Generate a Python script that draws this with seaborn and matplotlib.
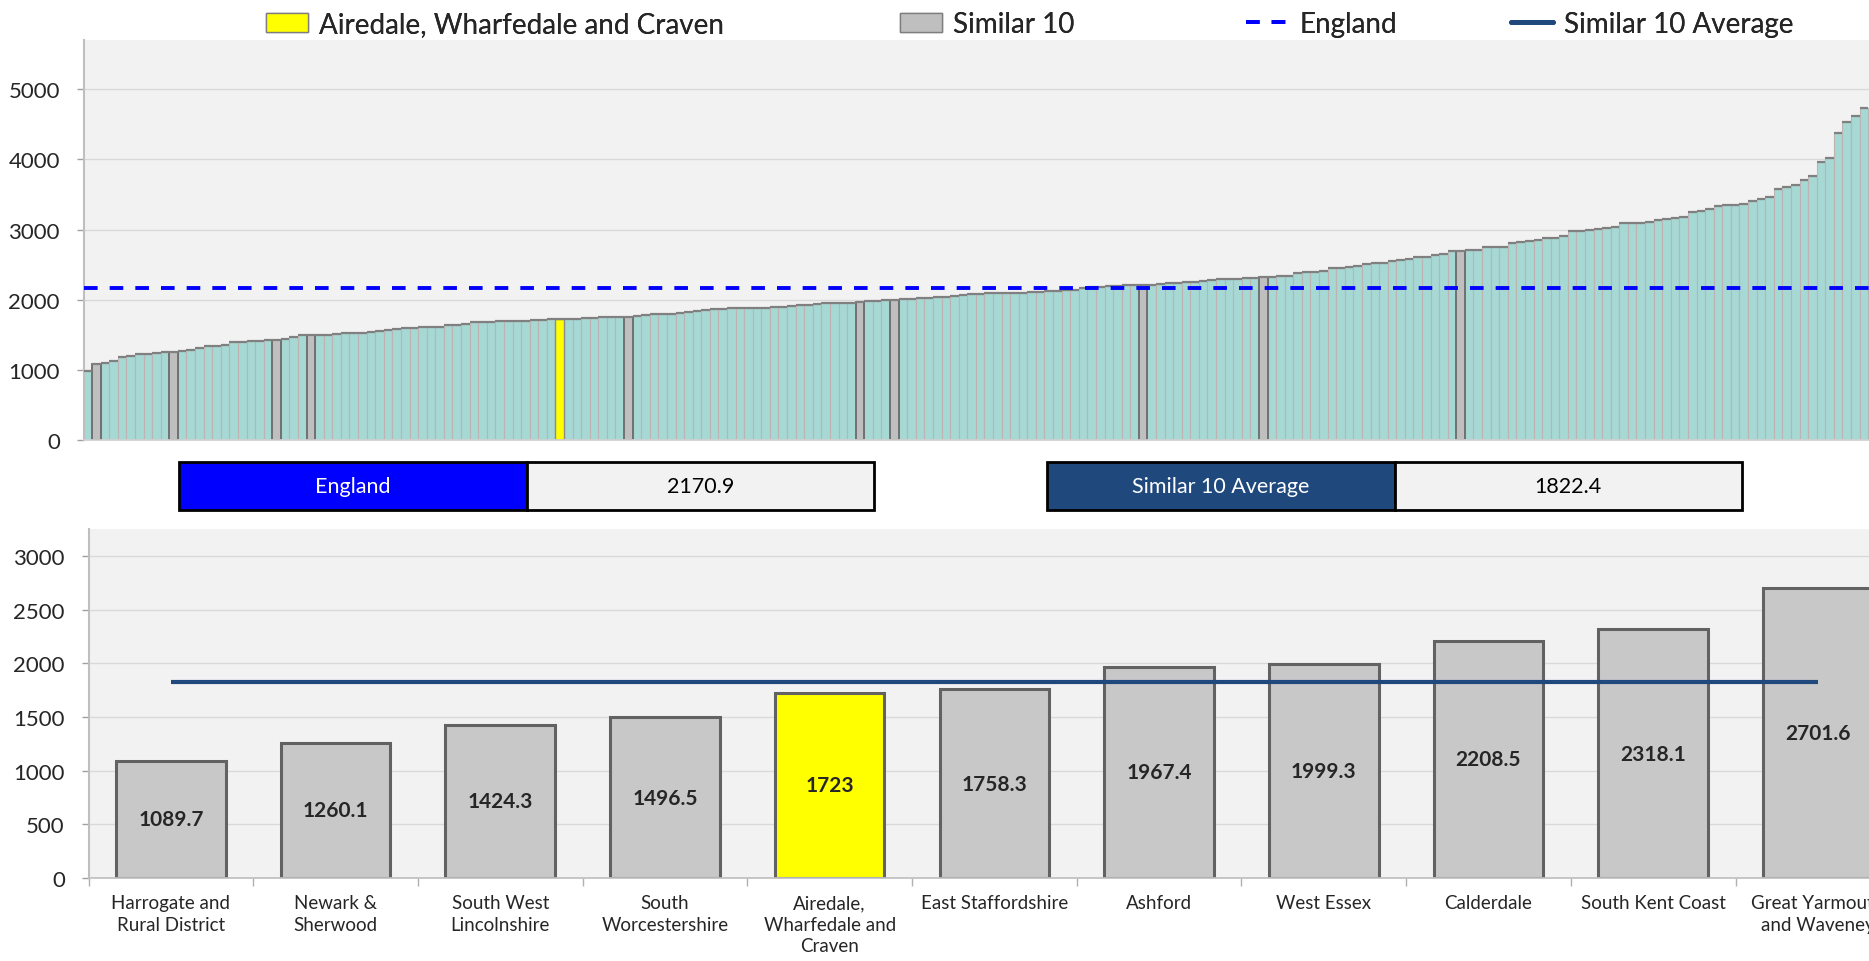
import numpy as np
import pandas as pd
import matplotlib
matplotlib.use("Agg")
import matplotlib.pyplot as plt
from matplotlib.patches import Patch, Rectangle
from matplotlib.lines import Line2D
import seaborn as sns

# ---- data ----
# all areas, sorted ascending (top panel)
all_values = [
    980, 1089.7, 1104, 1123, 1190, 1200, 1219, 1228, 1247, 1257,
    1260.1, 1264, 1290, 1309, 1338, 1343, 1357, 1395, 1404, 1414,
    1417, 1419, 1424.3, 1438, 1466, 1494, 1496.5, 1500, 1504, 1506,
    1519, 1521, 1523, 1538, 1557, 1566, 1580, 1598, 1603, 1605,
    1609, 1613, 1633, 1637, 1652, 1680, 1685, 1689, 1692, 1694,
    1696, 1699, 1704, 1710, 1718, 1723, 1725, 1730, 1740, 1745,
    1750, 1754, 1756, 1758.3, 1766, 1780, 1790, 1795, 1797, 1809,
    1823, 1842, 1856, 1861, 1871, 1880, 1883, 1884, 1885, 1887,
    1890, 1900, 1909, 1919, 1928, 1938, 1952, 1955, 1957, 1960,
    1967.4, 1976, 1978, 1995, 1999.3, 2009, 2011, 2023, 2028, 2038,
    2043, 2057, 2066, 2076, 2077, 2090, 2091, 2095, 2096, 2100,
    2104, 2109, 2128, 2130, 2142, 2144, 2171, 2180, 2185, 2190,
    2195, 2204, 2206, 2208.5, 2214, 2223, 2237, 2240, 2247, 2250,
    2261, 2275, 2290, 2295, 2299, 2314, 2316, 2318.1, 2320, 2337,
    2342, 2380, 2390, 2395, 2414, 2447, 2452, 2466, 2480, 2504,
    2518, 2520, 2547, 2571, 2580, 2604, 2614, 2633, 2657, 2695,
    2701.6, 2709, 2711, 2747, 2752, 2757, 2814, 2819, 2833, 2852,
    2876, 2880, 2909, 2976, 2981, 2995, 3009, 3028, 3033, 3088,
    3090, 3092, 3109, 3142, 3147, 3166, 3181, 3257, 3271, 3295,
    3338, 3347, 3357, 3366, 3404, 3433, 3466, 3580, 3609, 3633,
    3709, 3766, 3966, 4023, 4380, 4538, 4614, 4733,
]
similar_pos = [1, 10, 22, 26, 63, 90, 94, 123, 137, 160]
home_pos = 55

names = [
    "Harrogate and\nRural District", "Newark &\nSherwood", "South West\nLincolnshire",
    "South\nWorcestershire", "Airedale,\nWharfedale and\nCraven", "East Staffordshire",
    "Ashford", "West Essex", "Calderdale", "South Kent Coast", "Great Yarmouth\nand Waveney",
]
name_values = [1089.7, 1260.1, 1424.3, 1496.5, 1723, 1758.3, 1967.4, 1999.3, 2208.5, 2318.1, 2701.6]
home_name = "Airedale,\nWharfedale and\nCraven"

england = 2170.9
similar_avg = 1822.4

# ---- style ----
sns.set_theme(style="white")
plt.rcParams["font.family"] = ["Lato", "DejaVu Sans"]

teal = "#A6D8D4"
grey = "#BFBFBF"
yellow = "#FFFF00"
eng_blue = "#0000FF"
avg_blue = "#1F497D"
bg = "#F2F2F2"

W, H = 1869, 962
fig = plt.figure(figsize=(W / 100, H / 100), dpi=100)

def fx(px):
    return px / W

def fy(py):
    return 1 - py / H

# ---- top panel ----
ax1 = fig.add_axes([fx(83.5), fy(441), fx(W - 83.5), fy(41.2) - fy(441)])
ax1.set_facecolor(bg)
df = pd.DataFrame({"pos": np.arange(len(all_values)), "value": all_values})
df["group"] = "other"
df.loc[similar_pos, "group"] = "similar"
df.loc[home_pos, "group"] = "home"
order = list(df["pos"])

sub = df[df.group == "other"]
sns.barplot(data=sub, x="pos", y="value", order=order, color=teal, saturation=1,
            width=1.0, edgecolor="#BDB3B3", linewidth=0.8, errorbar=None, ax=ax1)
sub = df[df.group == "similar"]
sns.barplot(data=sub, x="pos", y="value", order=order, color=grey, saturation=1,
            width=1.0, edgecolor="#6A6A6A", linewidth=1.3, errorbar=None, ax=ax1)
sub = df[df.group == "home"]
sns.barplot(data=sub, x="pos", y="value", order=order, color=yellow, saturation=1,
            width=1.0, edgecolor="#8C8C8C", linewidth=1.0, errorbar=None, ax=ax1)
ax1.hlines(df["value"], df["pos"] - 0.5, df["pos"] + 0.5, color="#808080", lw=1.6, zorder=3)
ax1.axhline(england, color=eng_blue, lw=2.8, dashes=(3.5, 3.1), zorder=4)

ax1.set_xlim(-0.5, 207.6)
ax1.set_ylim(0, 5700)
ax1.set_yticks(np.arange(0, 5001, 1000))
ax1.set_xticks([])
ax1.set_xlabel("")
ax1.set_ylabel("")
ax1.yaxis.grid(True, color="#D9D9D9", lw=1)
ax1.set_axisbelow(True)
for s in ["top", "right"]:
    ax1.spines[s].set_visible(False)
ax1.spines["left"].set_color("#BFBFBF")
ax1.spines["left"].set_linewidth(1.5)
ax1.spines["bottom"].set_color("#D0D0D0")
ax1.tick_params(axis="y", left=True, length=5, width=1, color="#A0A0A0", pad=12, labelsize=16)

# ---- legend ----
leg_items = [
    (266, Patch(facecolor=yellow, edgecolor="#7F7F7F", lw=1), "Airedale, Wharfedale and Craven"),
    (900, Patch(facecolor=grey, edgecolor="#7F7F7F", lw=1), "Similar 10"),
    (1246, Line2D([], [], color=eng_blue, lw=2.8, dashes=(3.5, 3.1)), "England"),
    (1511, Line2D([], [], color=avg_blue, lw=3.5), "Similar 10 Average"),
]
for x0, h, lab in leg_items:
    lg = fig.legend([h], [lab], loc="center left", bbox_to_anchor=(fx(x0), fy(25)),
                    frameon=False, fontsize=20, borderpad=0, borderaxespad=0,
                    handlelength=1.5, handletextpad=0.42)
    fig.add_artist(lg)

# ---- info boxes ----
def info_box(x0, x1, x2, label, color, value):
    y0, y1 = fy(511.4), fy(462.5)
    fig.add_artist(Rectangle((fx(x0), y0), fx(x1 - x0), y1 - y0, transform=fig.transFigure,
                             facecolor=color, edgecolor="black", lw=2))
    fig.add_artist(Rectangle((fx(x1), y0), fx(x2 - x1), y1 - y0, transform=fig.transFigure,
                             facecolor=bg, edgecolor="black", lw=2))
    fig.text(fx((x0 + x1) / 2), (y0 + y1) / 2, label, color="white", ha="center", va="center", fontsize=15.5)
    fig.text(fx((x1 + x2) / 2), (y0 + y1) / 2, f"{value}", color="black", ha="center", va="center", fontsize=15.5)

info_box(179, 527, 874, "England", eng_blue, england)
info_box(1046.6, 1394.6, 1741.5, "Similar 10 Average", avg_blue, similar_avg)

# ---- bottom panel ----
ax2 = fig.add_axes([fx(88.5), fy(878.7), fx(11 * 164.7), fy(530) - fy(878.7)])
ax2.set_facecolor(bg)
colors = [yellow if n == home_name else "#C8C8C8" for n in names]
sns.barplot(x=names, y=name_values, hue=names, palette=colors, legend=False, saturation=1,
            width=0.666, edgecolor="#626262", linewidth=2.2, errorbar=None, ax=ax2)
ax2.hlines(similar_avg, 0, len(names) - 1, color=avg_blue, lw=3, zorder=5)
for i, v in enumerate(name_values):
    ax2.text(i, v / 2, f"{v:g}", ha="center", va="center", fontsize=15, fontweight="bold", zorder=6)

ax2.set_xlim(-0.5, len(names) - 0.5)
ax2.set_ylim(0, 3255)
ax2.set_yticks(np.arange(0, 3001, 500))
ax2.set_xticks(np.arange(-0.5, len(names) + 0.5, 1), minor=True)
ax2.tick_params(axis="x", which="major", length=0, pad=12, labelsize=13.5)
ax2.tick_params(axis="x", which="minor", bottom=True, length=6, width=1, color="#B0B0B0")
ax2.tick_params(axis="y", left=True, length=5, width=1, color="#A0A0A0", pad=12, labelsize=16)
for t in ax2.get_xticklabels():
    t.set_linespacing(1.3)
ax2.set_xlabel("")
ax2.set_ylabel("")
ax2.yaxis.grid(True, color="#D9D9D9", lw=1)
ax2.set_axisbelow(True)
for s in ["top", "right"]:
    ax2.spines[s].set_visible(False)
ax2.spines["left"].set_color("#BFBFBF")
ax2.spines["left"].set_linewidth(1.5)
ax2.spines["bottom"].set_color("#C0C0C0")

fig.savefig("out.png", dpi=100, facecolor="white")
